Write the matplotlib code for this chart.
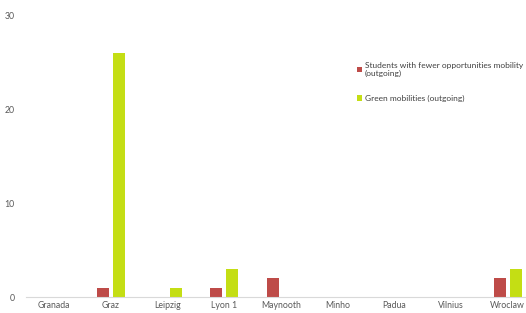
import matplotlib
matplotlib.use("Agg")
import matplotlib.pyplot as plt
import numpy as np

plt.rcParams['font.family'] = ['Lato', 'DejaVu Sans']

# data
universities = ["Granada", "Graz", "Leipzig", "Lyon 1", "Maynooth",
                "Minho", "Padua", "Vilnius", "Wroclaw"]
fewer_opps = [0, 1, 0, 1, 2, 0, 0, 0, 2]
green = [0, 26, 1, 3, 0, 0, 0, 0, 3]

red_col = "#BE4B48"
green_col = "#C4DE14"

fig = plt.figure(figsize=(5.26, 3.13), dpi=100)
ax = fig.add_axes([0.0494, 0.0511, 0.9696, 0.8978])

x = np.arange(len(universities))
w = 0.21
ax.bar(x - 0.14, fewer_opps, w, color=red_col,
       label="Students with fewer opportunities mobility\n(outgoing)")
ax.bar(x + 0.14, green, w, color=green_col,
       label="Green mobilities (outgoing)")

ax.set_xlim(-0.5, len(universities) - 0.5)
ax.set_ylim(0, 30)
ax.set_yticks([0, 10, 20, 30])
ax.set_xticks(x)
ax.set_xticklabels(universities)
ax.tick_params(axis='both', length=0, labelsize=6.3, colors="#595959")
ax.tick_params(axis='y', pad=8)
ax.tick_params(axis='x', pad=3)

for s in ["top", "right", "left"]:
    ax.spines[s].set_visible(False)
ax.spines["bottom"].set_color("#D9D9D9")
ax.spines["bottom"].set_linewidth(0.8)

leg = fig.legend(loc="upper left", bbox_to_anchor=(0.664, 0.826),
                 frameon=False, fontsize=6.0, handlelength=0.6,
                 handleheight=0.6, handletextpad=0.4, labelspacing=2.1)
for t in leg.get_texts():
    t.set_color("#404040")

fig.savefig("out.png", dpi=100)
